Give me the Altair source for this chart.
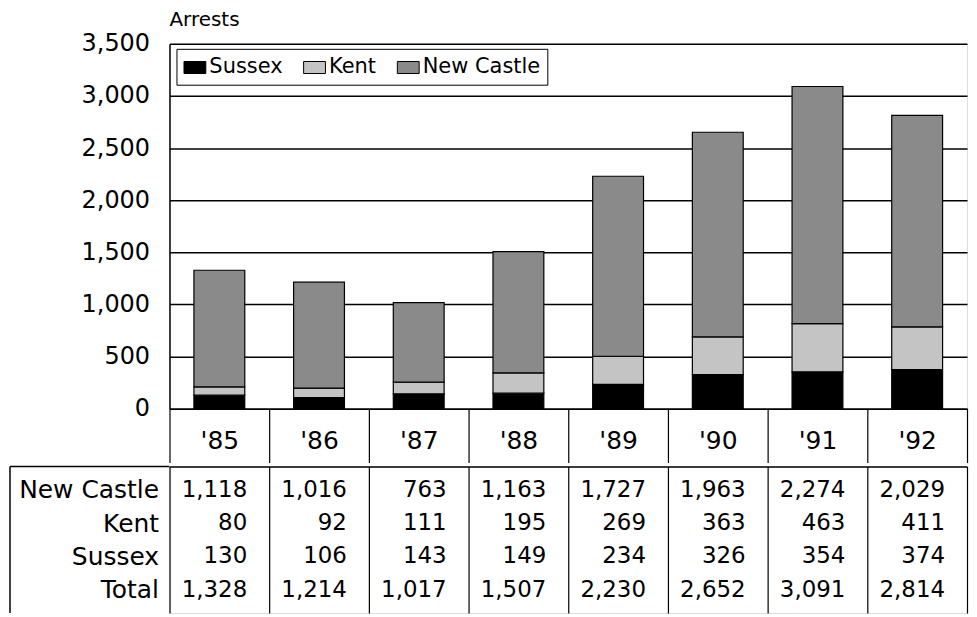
import altair as alt
import pandas as pd

years = ["'85", "'86", "'87", "'88", "'89", "'90", "'91", "'92"]
counties = ["Sussex", "Kent", "New Castle"]
new_castle = [1118, 1016, 763, 1163, 1727, 1963, 2274, 2029]
kent = [80, 92, 111, 195, 269, 363, 463, 411]
sussex = [130, 106, 143, 149, 234, 326, 354, 374]
total = [1328, 1214, 1017, 1507, 2230, 2652, 3091, 2814]
table_rows = ["New Castle", "Kent", "Sussex", "Total"]
y_ticks = [0, 500, 1000, 1500, 2000, 2500, 3000, 3500]
colors = ["#000000", "#c4c4c4", "#8a8a8a"]

FONT = "DejaVu Sans"

series = {"Sussex": sussex, "Kent": kent, "New Castle": new_castle}
bar_records = []
for i, c in enumerate(counties):
    for y, v in zip(years, series[c]):
        bar_records.append({"county": c, "year": y, "value": v, "ord": i})
bar_df = pd.DataFrame(bar_records)

table_series = {"New Castle": new_castle, "Kent": kent, "Sussex": sussex, "Total": total}
tab_records = []
for r in table_rows:
    for y, v in zip(years, table_series[r]):
        tab_records.append({"row": r, "year": y, "value": v})
tab_df = pd.DataFrame(tab_records)

W = 800
H_PLOT = 366
H_TAB = 147

bars = alt.Chart(bar_df).mark_bar(stroke="black", strokeWidth=1.2,
                                  width=alt.RelativeBandSize(0.51)).encode(
    x=alt.X("year:N", sort=years,
            scale=alt.Scale(type="band", paddingInner=0, paddingOuter=0),
            axis=alt.Axis(title=None, labelAngle=0, tickBand="extent", tickSize=54,
                          tickColor="black", tickWidth=1.2, domainColor="black", domainWidth=1.5,
                          labelFont=FONT, labelFontSize=25, labelColor="black",
                          labelPadding=-22, labelBaseline="middle")),
    y=alt.Y("value:Q", stack="zero",
            scale=alt.Scale(domain=[0, 3500], nice=False),
            axis=alt.Axis(title=None, values=y_ticks, format=",.0f", ticks=False,
                          gridColor="black", gridWidth=1.5, gridOpacity=1,
                          domainColor="black", domainWidth=1.5,
                          labelPadding=20, labelFont=FONT, labelFontSize=24,
                          labelColor="black")),
    color=alt.Color("county:N",
                    scale=alt.Scale(domain=counties, range=colors),
                    legend=alt.Legend(title=None, orient="none", legendX=7, legendY=5,
                                      direction="horizontal", strokeColor="black",
                                      fillColor="white", padding=7,
                                      symbolType="M-1,-0.55H1V0.55H-1Z", symbolSize=480,
                                      symbolStrokeColor="black", symbolStrokeWidth=1,
                                      labelFont=FONT, labelFontSize=21, labelColor="black",
                                      labelOffset=3, columnPadding=18)),
    order=alt.Order("ord:Q"),
).properties(
    width=W, height=H_PLOT,
    title=alt.TitleParams("Arrests", anchor="start", frame="group", font=FONT,
                          fontSize=20, fontWeight="normal", color="black", offset=2),
)

tab_text = alt.Chart(tab_df).mark_text(align="right", dx=28, font=FONT, fontSize=23,
                                       color="black").encode(
    x=alt.X("year:N", sort=years,
            scale=alt.Scale(paddingInner=0, paddingOuter=0),
            axis=alt.Axis(orient="top", title=None, labels=False, ticks=False,
                          domain=True, domainColor="black", domainWidth=1.5,
                          grid=True, gridColor="black", gridWidth=1.2, gridOpacity=1,
                          tickBand="extent")),
    y=alt.Y("row:N", sort=table_rows,
            scale=alt.Scale(type="point", padding=0.7),
            axis=alt.Axis(title=None, ticks=False, domain=False, grid=False,
                          labelPadding=11, labelFont=FONT, labelFontSize=25,
                          labelColor="black")),
    text=alt.Text("value:Q", format=","),
)

deco = alt.Data(values=[{"k": 1}])
top_left_rule = alt.Chart(deco).mark_rule(color="black", strokeWidth=1.5).encode(
    x=alt.value(-160), x2=alt.value(0), y=alt.value(0))
left_rule = alt.Chart(deco).mark_rule(color="black", strokeWidth=1.5).encode(
    x=alt.value(-160), y=alt.value(0), y2=alt.value(H_TAB))

table = alt.layer(tab_text, top_left_rule, left_rule).properties(width=W, height=H_TAB)

chart = alt.vconcat(bars, table, spacing=0).properties(padding=0).configure_view(
    stroke=None).configure(background="white")

chart.save("out.html", embed_options={"renderer": "svg", "actions": False})
